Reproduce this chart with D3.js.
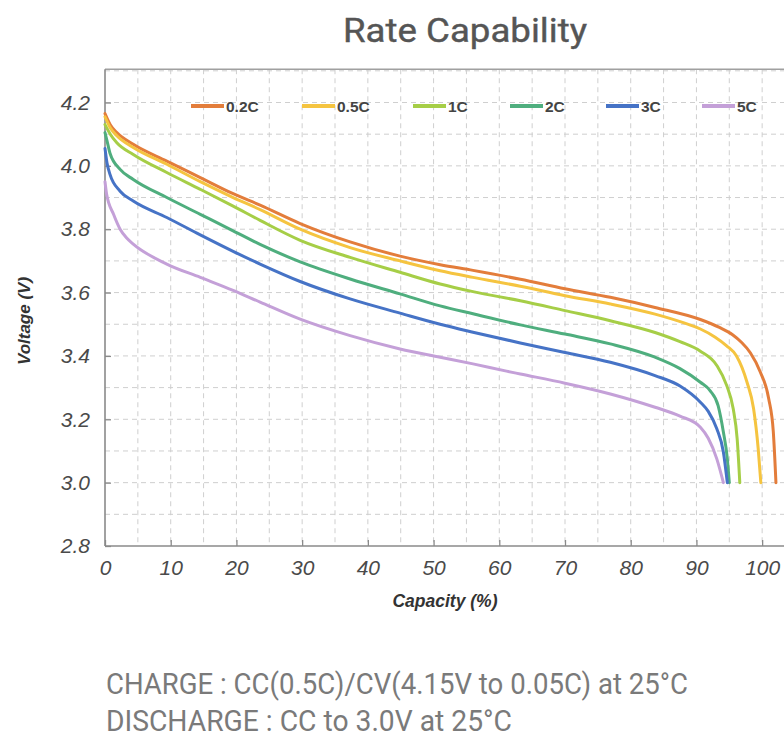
<!DOCTYPE html>
<html><head><meta charset="utf-8">
<script src="https://cdn.jsdelivr.net/npm/d3@7"></script>
<style>
html,body{margin:0;padding:0;background:#fff;}
svg{display:block;}
</style></head>
<body>
<svg id="chart" width="784" height="740"></svg>
<script>
// ---- data ----
const seriesNames = ["0.2C", "0.5C", "1C", "2C", "3C", "5C"];
const seriesColors = ["#E37D3B", "#F5C440", "#A6CE47", "#4FAE7E", "#4673C6", "#C4A0D8"];
const rate02C = [[0,4.165],[0.8,4.13],[1.8,4.105],[4.3,4.068],[9.4,4.015],[14.5,3.963],[19.5,3.912],[23.6,3.876],[29.7,3.818],[37.3,3.76],[44.9,3.715],[51,3.688],[56,3.67],[63.2,3.642],[70,3.612],[76.9,3.585],[83.7,3.553],[90.6,3.515],[93.5,3.49],[95.5,3.467],[96.8,3.444],[98.2,3.41],[99.7,3.35],[101,3.265],[101.7,3.16],[102.1,3.0]];
const rate05C = [[0,4.155],[0.8,4.12],[1.8,4.095],[4.3,4.058],[9.4,4.005],[14.5,3.95],[19.5,3.9],[23.6,3.862],[29.7,3.8],[37.3,3.742],[44.9,3.7],[51,3.669],[56,3.648],[63.2,3.62],[70,3.59],[76.9,3.564],[83.7,3.532],[88,3.505],[90.6,3.485],[92.8,3.46],[94.6,3.432],[96.1,3.4],[97.7,3.317],[98.7,3.233],[99.4,3.107],[99.8,3.0]];
const rate1C = [[0,4.13],[0.8,4.1],[1.8,4.073],[4.3,4.036],[9.4,3.979],[14.5,3.926],[19.5,3.873],[23.6,3.828],[29.7,3.765],[37.3,3.711],[44.9,3.664],[51,3.627],[56,3.603],[63.2,3.574],[70,3.543],[76.9,3.511],[83.7,3.474],[87.5,3.445],[90.6,3.415],[93.1,3.37],[94.6,3.307],[95.6,3.233],[96.2,3.138],[96.6,3.0]];
const rate2C = [[0,4.105],[0.3,4.08],[0.76,4.04],[2.3,3.989],[4.3,3.957],[9.4,3.9],[14.5,3.847],[19.5,3.795],[23.6,3.752],[29.7,3.697],[37.3,3.643],[44.9,3.596],[51,3.558],[56,3.533],[63.2,3.498],[70,3.469],[76.9,3.438],[83.7,3.396],[87.5,3.36],[90.6,3.317],[92.1,3.29],[93.3,3.243],[94.1,3.16],[94.7,3.076],[95.0,3.0]];
const rate3C = [[0,4.055],[0.3,4.01],[0.76,3.973],[2.3,3.92],[4.3,3.889],[9.4,3.837],[14.5,3.782],[19.5,3.73],[23.6,3.69],[29.7,3.635],[37.3,3.58],[44.9,3.535],[51,3.5],[56,3.475],[63.2,3.441],[70,3.411],[76.9,3.38],[83.7,3.338],[87.5,3.305],[90.6,3.254],[91.8,3.225],[93.1,3.17],[94.1,3.097],[94.7,3.0]];
const rate5C = [[0,3.95],[0.25,3.91],[1.3,3.847],[2.3,3.8],[3.3,3.772],[4.3,3.753],[9.4,3.69],[14.5,3.648],[19.5,3.607],[23.6,3.57],[29.7,3.516],[37.3,3.464],[44.9,3.422],[51,3.396],[56,3.375],[61.1,3.352],[63.2,3.343],[70,3.314],[76.9,3.28],[83.7,3.238],[87.5,3.21],[90.6,3.175],[91.8,3.14],[93.1,3.075],[94.1,3.0]];
const seriesData = [rate02C, rate05C, rate1C, rate2C, rate3C, rate5C];
const xTickValues = [0,10,20,30,40,50,60,70,80,90,100];
const yTickValues = [2.8,3.0,3.2,3.4,3.6,3.8,4.0,4.2];
const xGridValues = d3.range(5, 106, 5);
const yGridValues = d3.range(2.9, 4.31, 0.1);
const titleText = "Rate Capability";
const xAxisTitle = "Capacity (%)";
const yAxisTitle = "Voltage (V)";
const noteLines = ["CHARGE : CC(0.5C)/CV(4.15V to 0.05C) at 25°C", "DISCHARGE : CC to 3.0V at 25°C"];

// ---- layout ----
const svg = d3.select("#chart");
const x = d3.scaleLinear().domain([0, 105]).range([105, 795]);
const y = d3.scaleLinear().domain([2.8, 4.2]).range([546, 102.5]);
const yTop = y(4.305);

// title
svg.append("text").attr("x", 343).attr("y", 42)
  .attr("font-family", "Roboto, 'Open Sans', sans-serif").attr("font-size", 33).attr("font-weight", 400)
  .attr("fill", "#555").attr("stroke", "#555").attr("stroke-width", 0.4)
  .attr("textLength", 244).attr("lengthAdjust", "spacingAndGlyphs").text(titleText);

// grid
const g = svg.append("g");
g.selectAll(".vg").data(xGridValues).join("line")
  .attr("x1", d => x(d)).attr("x2", d => x(d)).attr("y1", yTop).attr("y2", y(2.8))
  .attr("stroke", "#cfcfcf").attr("stroke-width", 1).attr("stroke-dasharray", "5,4");
g.selectAll(".hg").data(yGridValues).join("line")
  .attr("x1", x(0)).attr("x2", 784).attr("y1", d => y(d)).attr("y2", d => y(d))
  .attr("stroke", "#cfcfcf").attr("stroke-width", 1).attr("stroke-dasharray", "5,4");

// frame top
svg.append("line").attr("x1", x(0)).attr("x2", 784).attr("y1", yTop).attr("y2", yTop)
  .attr("stroke", "#a0a0a0").attr("stroke-width", 1.5);

// axes
const xAxis = d3.axisBottom(x).tickValues(xTickValues).tickSize(-6).tickPadding(10).tickFormat(d3.format("d"));
const yAxis = d3.axisLeft(y).tickValues(yTickValues).tickSize(-6).tickPadding(15).tickFormat(d3.format(".1f"));
const gx = svg.append("g").attr("transform", `translate(0,${y(2.8)})`).call(xAxis);
const gy = svg.append("g").attr("transform", `translate(${x(0)},0)`).call(yAxis);
gy.select(".domain").attr("d", `M0,${yTop}V${y(2.8)}`);
gx.select(".domain").attr("d", `M${x(0)},0H784`);
[gx, gy].forEach(a => {
  a.select(".domain").attr("stroke", "#8a8a8a").attr("stroke-width", 1.6);
  a.selectAll(".tick line").attr("stroke", "#8a8a8a").attr("stroke-width", 1.3);
  a.selectAll(".tick text").attr("font-family", "'Liberation Sans', Arial, sans-serif")
    .attr("font-style", "italic").attr("font-size", 21).attr("fill", "#4a4a4a");
});
gx.selectAll(".tick text").attr("dy", "0.9em");

// axis titles
svg.append("text").attr("x", 445).attr("y", 607).attr("text-anchor", "middle")
  .attr("font-family", "'Liberation Sans', Arial, sans-serif").attr("font-weight", "bold")
  .attr("font-style", "italic").attr("font-size", 17.5).attr("fill", "#333").text(xAxisTitle);
svg.append("text").attr("transform", `translate(30,321) rotate(-90)`).attr("text-anchor", "middle")
  .attr("font-family", "'Liberation Sans', Arial, sans-serif").attr("font-weight", "bold")
  .attr("font-style", "italic").attr("font-size", 17).attr("fill", "#333").text(yAxisTitle);

// curves
const line = d3.line().x(d => x(d[0])).y(d => y(d[1])).curve(d3.curveMonotoneX);
svg.append("g").selectAll("path").data(seriesData).join("path")
  .attr("d", line).attr("fill", "none")
  .attr("stroke", (d, i) => seriesColors[i]).attr("stroke-width", 3)
  .attr("stroke-linejoin", "round").attr("stroke-linecap", "round");

// legend
const legendX = [191, 302, 413, 510, 606, 702];
const legY = 106;
const leg = svg.append("g").selectAll("g").data(seriesNames).join("g")
  .attr("transform", (d, i) => `translate(${legendX[i]},${legY})`);
leg.append("line").attr("x1", 0).attr("x2", 33).attr("y1", 0).attr("y2", 0)
  .attr("stroke", (d, i) => seriesColors[i]).attr("stroke-width", 4);
leg.append("text").attr("x", 35).attr("y", 5.5).attr("font-family", "'Liberation Sans', Arial, sans-serif")
  .attr("font-weight", "bold").attr("font-size", 15.5).attr("fill", "#444").text(d => d);

// notes
const noteWidths = [582, 406];
svg.selectAll(".note").data(noteLines).join("text")
  .attr("x", 106).attr("y", (d, i) => 694 + i * 37)
  .attr("font-family", "Roboto, 'Open Sans', sans-serif").attr("font-size", 30)
  .attr("fill", "#7a7a7a")
  .attr("textLength", (d, i) => noteWidths[i]).attr("lengthAdjust", "spacingAndGlyphs")
  .text(d => d);
</script>
</body></html>
